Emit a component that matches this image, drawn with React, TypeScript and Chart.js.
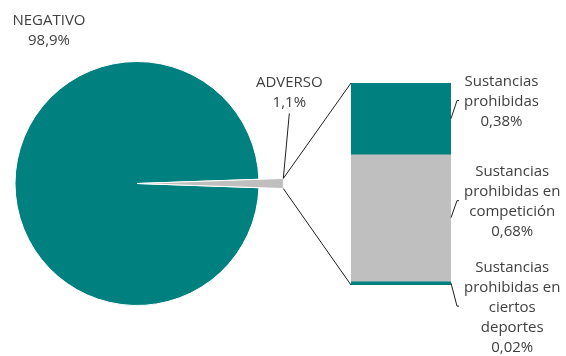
import React, { useEffect, useRef } from 'react';
import { Chart, registerables } from 'chart.js';

Chart.register(...registerables);

// ---- data ----
const pieCategories = ['NEGATIVO', 'ADVERSO'];
const pieValues = [98.9, 1.1];

const barCategories = [
  ['Sustancias', 'prohibidas'],
  ['Sustancias', 'prohibidas en', 'competición'],
  ['Sustancias', 'prohibidas en', 'ciertos', 'deportes'],
];
const barValues = [0.38, 0.68, 0.02];

// ---- styles / layout ----
const W = 566;
const H = 356;
const TEAL = '#00807F';
const GRAY = '#BFBFBF';
const pieColors = [TEAL, GRAY];
const barColors = [TEAL, GRAY, TEAL];
const FONT = '15px "Open Sans"';
const TEXT = '#404040';
const LINE = '#1f1f1f';
const LH = 20;
const pieLabelOffset = { dx: -88, dy: -153 };
const adversoLeader = { dx: 6, dy: -65, textDy: -21 };
const barLabelLeaders = [
  { dx: 6, dy: -18 },
  { dx: 6, dy: -17 },
  { dx: 6, dy: 23 },
];

const fmt = (v: number, d: number) => v.toFixed(d).replace('.', ',') + '%';

function drawBlock(ctx: CanvasRenderingContext2D, lines: string[], cx: number, cy: number) {
  const n = lines.length;
  lines.forEach((t, i) => ctx.fillText(t, cx, cy + (i - (n - 1) / 2) * LH));
}

export default function App() {
  const pieRef = useRef<HTMLCanvasElement | null>(null);
  const barRef = useRef<HTMLCanvasElement | null>(null);

  useEffect(() => {
    if (!pieRef.current || !barRef.current) return;
    const total = pieValues.reduce((a, b) => a + b, 0);
    const lastDeg = (pieValues[pieValues.length - 1] / total) * 360;

    const extendSlice = {
      id: 'extendSlice',
      afterDatasetsUpdate(chart: any) {
        const arcs = chart.getDatasetMeta(0).data;
        const arc = arcs[arcs.length - 1];
        arc.outerRadius = arc.outerRadius * 1.2;
      },
    };

    const pieLabels = {
      id: 'pieLabels',
      afterDraw(chart: any) {
        const ctx: CanvasRenderingContext2D = chart.ctx;
        const arcs = chart.getDatasetMeta(0).data;
        const main = arcs[0];
        const small = arcs[arcs.length - 1];
        ctx.save();
        ctx.font = FONT;
        ctx.fillStyle = TEXT;
        ctx.textAlign = 'center';
        ctx.textBaseline = 'middle';
        drawBlock(ctx, [pieCategories[0], fmt(pieValues[0], 1)], main.x + pieLabelOffset.dx, main.y + pieLabelOffset.dy);
        const tx = small.x + small.outerRadius * Math.cos(small.startAngle);
        const ty = small.y + small.outerRadius * Math.sin(small.startAngle);
        const ex = tx + adversoLeader.dx;
        const ey = ty + adversoLeader.dy;
        ctx.strokeStyle = LINE;
        ctx.lineWidth = 1;
        ctx.beginPath();
        ctx.moveTo(tx, ty);
        ctx.lineTo(ex, ey);
        ctx.stroke();
        drawBlock(ctx, [pieCategories[1], fmt(pieValues[1], 1)], ex, ey + adversoLeader.textDy);
        ctx.restore();
      },
    };

    const pie = new Chart(pieRef.current, {
      type: 'pie',
      data: {
        labels: pieCategories,
        datasets: [
          {
            data: pieValues,
            backgroundColor: pieColors,
            borderColor: '#ffffff',
            borderWidth: 1,
            rotation: 90 + lastDeg / 2,
          } as any,
        ],
      },
      options: {
        responsive: false,
        animation: false,
        radius: 122,
        layout: { padding: { left: 0, right: W - 274, top: 11, bottom: 0 } },
        plugins: { legend: { display: false }, tooltip: { enabled: false } },
        events: [],
      } as any,
      plugins: [extendSlice, pieLabels],
    });

    const barDeco = {
      id: 'barDeco',
      afterDraw(chart: any) {
        const ctx: CanvasRenderingContext2D = chart.ctx;
        const bars = barValues.map((_, i) => chart.getDatasetMeta(i).data[0]);
        const first = bars[0];
        const last = bars[bars.length - 1];
        const left = first.x - first.width / 2;
        const right = first.x + first.width / 2;
        const top = Math.min(first.y, first.base);
        const bottom = Math.max(last.y, last.base);

        const arcs = pie.getDatasetMeta(0).data as any[];
        const small = arcs[arcs.length - 1];
        const ux = small.x + small.outerRadius * Math.cos(small.startAngle);
        const uy = small.y + small.outerRadius * Math.sin(small.startAngle);
        const lx = small.x + small.outerRadius * Math.cos(small.endAngle);
        const ly = small.y + small.outerRadius * Math.sin(small.endAngle);

        ctx.save();
        ctx.strokeStyle = LINE;
        ctx.lineWidth = 1;
        ctx.beginPath();
        ctx.moveTo(ux, uy);
        ctx.lineTo(left, top);
        ctx.moveTo(lx, ly);
        ctx.lineTo(left, bottom);
        ctx.stroke();

        ctx.font = FONT;
        ctx.fillStyle = TEXT;
        ctx.textAlign = 'center';
        ctx.textBaseline = 'middle';
        bars.forEach((b: any, i: number) => {
          const sx = right;
          const sy = (b.y + b.base) / 2;
          const ex = sx + barLabelLeaders[i].dx;
          const ey = sy + barLabelLeaders[i].dy;
          ctx.beginPath();
          ctx.moveTo(sx, sy);
          ctx.lineTo(ex, ey);
          ctx.lineTo(ex + 2, ey);
          ctx.stroke();
          const lines = [...barCategories[i], fmt(barValues[i], 2)];
          const maxW = Math.max(...lines.map((t) => ctx.measureText(t).width));
          drawBlock(ctx, lines, ex + 7 + maxW / 2, ey + 1.5);
        });
        ctx.restore();
      },
    };

    const sum = barValues.reduce((a, b) => a + b, 0);
    const bar = new Chart(barRef.current, {
      type: 'bar',
      data: {
        labels: [''],
        datasets: barValues.map((v, i) => ({
          data: [v],
          backgroundColor: barColors[i],
          borderWidth: 0,
          barPercentage: 1,
          categoryPercentage: 1,
        })),
      },
      options: {
        responsive: false,
        animation: false,
        events: [],
        layout: { padding: { left: 351, right: W - 451, top: 83, bottom: H - 285 } },
        scales: {
          x: { stacked: true, display: false },
          y: { stacked: true, display: false, min: 0, max: sum, reverse: true },
        },
        plugins: { legend: { display: false }, tooltip: { enabled: false } },
      },
      plugins: [barDeco],
    });

    return () => {
      bar.destroy();
      pie.destroy();
    };
  }, []);

  return (
    <div style={{ position: 'fixed', left: 0, top: 0, width: W, height: H, background: '#fff' }}>
      <canvas ref={pieRef} width={W} height={H} style={{ position: 'absolute', left: 0, top: 0 }} />
      <canvas ref={barRef} width={W} height={H} style={{ position: 'absolute', left: 0, top: 0 }} />
    </div>
  );
}
